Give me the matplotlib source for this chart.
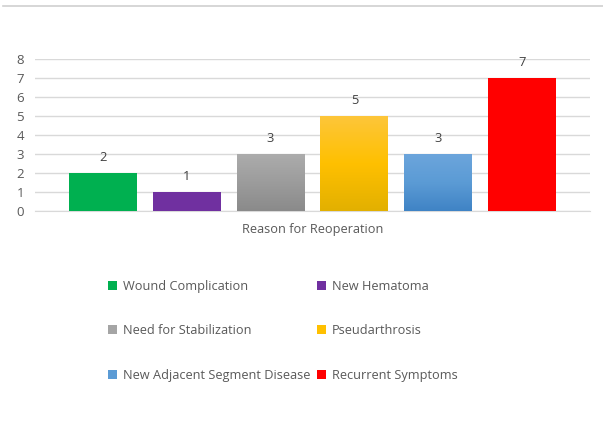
import matplotlib
matplotlib.use("Agg")
import matplotlib.pyplot as plt
import numpy as np
from matplotlib.colors import LinearSegmentedColormap
from matplotlib.patches import Patch
from matplotlib.lines import Line2D

categories = ["Wound Complication", "New Hematoma", "Need for Stabilization",
              "Pseudarthrosis", "New Adjacent Segment Disease", "Recurrent Symptoms"]
values = [2, 1, 3, 5, 3, 7]
xlabel = "Reason for Reoperation"
yticks = [0, 1, 2, 3, 4, 5, 6, 7, 8]

# (top, middle, bottom) colours for each bar
bar_colors = [
    ("#00b050", "#00b050", "#00b050"),
    ("#7030a0", "#7030a0", "#7030a0"),
    ("#acacac", "#9c9c9c", "#8a8a8a"),
    ("#fdc63a", "#ffc000", "#e2b000"),
    ("#6ca5dc", "#5b9bd5", "#3f83c5"),
    ("#ff0000", "#ff0000", "#ff0000"),
]
legend_colors = ["#00b050", "#7030a0", "#a5a5a5", "#ffc000", "#5b9bd5", "#ff0000"]

plt.rcParams['font.family'] = ['Open Sans', 'DejaVu Sans']
text_color = "#595959"

W, H = 603, 422
fig = plt.figure(figsize=(W / 100, H / 100), dpi=100)
fig.patch.set_facecolor("white")

# top border line
fig.add_artist(Line2D([3 / W, 1], [1 - 6 / H, 1 - 6 / H], color="#d0d0d0", lw=1.2))

ax = fig.add_axes([35 / W, 1 - 211 / H, (590 - 35) / W, (211 - 59) / H])
x = np.arange(len(values))
bw = 0.81
bars = ax.bar(x, values, width=bw, color=[c[1] for c in bar_colors], zorder=3,
              edgecolor="none")
grad = np.linspace(0, 1, 256).reshape(-1, 1)
for b, cols in zip(bars, bar_colors):
    if cols[0] != cols[2]:
        cmap = LinearSegmentedColormap.from_list("g", [cols[0], cols[1], cols[2]])
        x0, y0 = b.get_x(), b.get_y()
        im = ax.imshow(grad, cmap=cmap, aspect="auto", zorder=4,
                       extent=[x0, x0 + b.get_width(), y0, y0 + b.get_height()],
                       origin="upper")
        im.set_clip_path(b)

for xi, v in zip(x, values):
    ax.annotate(str(v), (xi, v), xytext=(0, 11), textcoords="offset points",
                ha="center", va="center", fontsize=9.3, color="#404040")

ax.set_xlim(-0.811, 5.811)
ax.set_ylim(0, 8)
ax.set_yticks(yticks)
ax.set_xticks([])
ax.yaxis.grid(True, color="#d9d9d9", lw=1, zorder=0)
for s in ["top", "right", "left"]:
    ax.spines[s].set_visible(False)
ax.spines["bottom"].set_color("#d9d9d9")
ax.tick_params(axis="y", length=0, labelsize=9.5, labelcolor=text_color, pad=8)
ax.set_xlabel(xlabel, fontsize=9.2, color=text_color, labelpad=9)

# legend (row-wise order in 2 columns)
handles = [Patch(facecolor=c, edgecolor="none") for c in legend_colors]
order = [0, 2, 4, 1, 3, 5]
leg = fig.legend([handles[i] for i in order], [categories[i] for i in order],
                 ncol=2, loc="upper left", bbox_to_anchor=(108 / W, 1 - 280 / H),
                 frameon=False, fontsize=9.2, handlelength=0.7, handleheight=0.7,
                 handletextpad=0.45, labelspacing=2.45, columnspacing=0.55,
                 borderpad=0, borderaxespad=0)
for t in leg.get_texts():
    t.set_color(text_color)

fig.savefig("out.png", dpi=100, facecolor="white")
